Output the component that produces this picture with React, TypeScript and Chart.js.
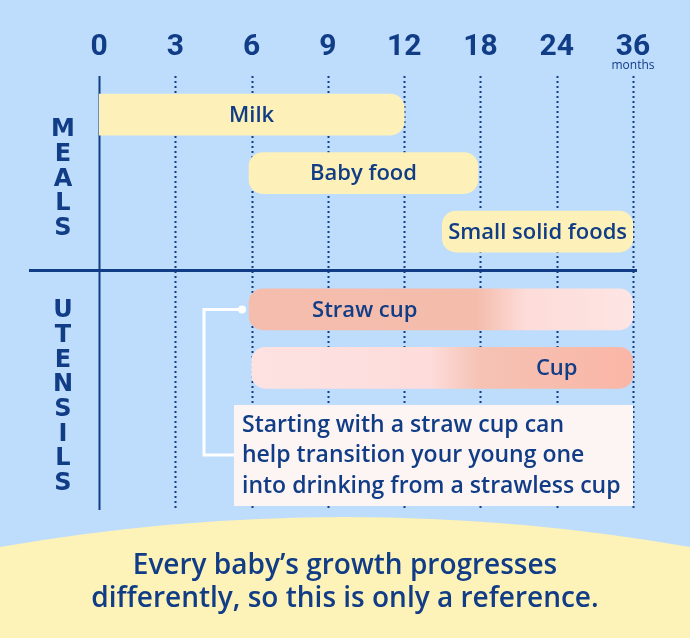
import React, { useEffect, useRef } from 'react';
import { Chart, registerables } from 'chart.js';

Chart.register(...registerables);

// ---- data ----
const tickMonths = [0, 3, 6, 9, 12, 18, 24, 36];
const categories = ['Milk', 'Baby food', 'Small solid foods', 'Straw cup', 'Cup'];
const startMonths = [0, 5.9, 15, 5.9, 6];
const endMonths = [12, 17.8, 36, 36, 36];
const rowPositions = [0, 1, 2, 3.33, 4.33];
const accentFrom = [null, null, null, 5.9, 18];
const accentTo = [null, null, null, 18, 36];
const groupMeals = 'MEALS';
const groupUtensils = 'UTENSILS';
const noteLines = [
  'Starting with a straw cup can',
  'help transition your young one',
  'into drinking from a strawless cup',
];
const footerLines = ['Every baby\u2019s growth progresses', 'differently, so this is only a reference.'];

const NAVY = '#113c86';
const BG = '#bedcfc';
const YELLOW = '#fdf1b9';
const FOOT_YELLOW = '#fdf2b8';
const FONT = '"Open Sans", "Noto Sans", sans-serif';

function toPos(m: number): number {
  for (let i = 0; i < tickMonths.length - 1; i++) {
    const a = tickMonths[i];
    const b = tickMonths[i + 1];
    if (m <= b) return i + (m - a) / (b - a);
  }
  return tickMonths.length - 1;
}

const decorPlugin = {
  id: 'decor',
  beforeDraw(chart: any) {
    const { ctx, width, height } = chart;
    ctx.save();
    ctx.fillStyle = BG;
    ctx.fillRect(0, 0, width, height);
    // yellow arc footer
    ctx.fillStyle = FOOT_YELLOW;
    ctx.beginPath();
    ctx.moveTo(0, 547);
    ctx.quadraticCurveTo(width / 2, 487, width, 547);
    ctx.lineTo(width, height);
    ctx.lineTo(0, height);
    ctx.closePath();
    ctx.fill();
    ctx.fillStyle = NAVY;
    ctx.font = `600 28px ${FONT}`;
    ctx.textAlign = 'center';
    ctx.textBaseline = 'middle';
    footerLines.forEach((l, i) => ctx.fillText(l, width / 2, 566 + i * 33));
    ctx.restore();
  },
  beforeDatasetsDraw(chart: any) {
    const { ctx, chartArea } = chart;
    const xs = chart.scales.x;
    const ys = chart.scales.y;
    ctx.save();
    ctx.strokeStyle = NAVY;
    tickMonths.forEach((m, i) => {
      const x = Math.round(xs.getPixelForValue(toPos(m))) + 0.5;
      ctx.beginPath();
      if (i === 0) {
        ctx.setLineDash([]);
        ctx.lineWidth = 2;
      } else {
        ctx.setLineDash([2, 3]);
        ctx.lineWidth = 2;
      }
      ctx.moveTo(x, chartArea.top);
      ctx.lineTo(x, chartArea.bottom);
      ctx.stroke();
    });
    ctx.setLineDash([]);
    // separator between groups
    const sepY = ys.getPixelForValue((rowPositions[2] + rowPositions[3]) / 2);
    ctx.lineWidth = 3;
    ctx.beginPath();
    ctx.moveTo(29, sepY);
    ctx.lineTo(xs.getPixelForValue(toPos(36)) + 4, sepY);
    ctx.stroke();
    // months label
    ctx.fillStyle = NAVY;
    ctx.font = `500 12px ${FONT}`;
    ctx.textAlign = 'center';
    ctx.textBaseline = 'middle';
    ctx.fillText('months', xs.getPixelForValue(toPos(36)), 66);
    // group letters
    ctx.font = `bold 24px "DejaVu Sans", sans-serif`;
    const lx = 63;
    groupMeals.split('').forEach((c, i) => ctx.fillText(c, lx, 130 + i * 24.7));
    groupUtensils.split('').forEach((c, i) => ctx.fillText(c, lx, 311 + i * 24.7));
    ctx.restore();
  },
  afterDatasetsDraw(chart: any) {
    const { ctx } = chart;
    const xs = chart.scales.x;
    const meta = chart.getDatasetMeta(0);
    ctx.save();
    ctx.fillStyle = NAVY;
    ctx.font = `600 22px ${FONT}`;
    ctx.textAlign = 'center';
    ctx.textBaseline = 'middle';
    meta.data.forEach((bar: any, i: number) => {
      let a = bar.base;
      let b = bar.x;
      if (accentFrom[i] !== null) {
        a = xs.getPixelForValue(toPos(accentFrom[i] as number));
        b = xs.getPixelForValue(toPos(accentTo[i] as number));
      }
      ctx.fillText(categories[i], (a + b) / 2, bar.y + 1);
    });
    // note box
    const left = 234;
    const right = xs.getPixelForValue(toPos(36));
    ctx.fillStyle = '#fdf5f3';
    ctx.fillRect(left, 405, right - left, 101);
    ctx.fillStyle = NAVY;
    ctx.font = `600 23px ${FONT}`;
    ctx.textAlign = 'left';
    noteLines.forEach((l, i) => ctx.fillText(l, 242, 425 + i * 30.5));
    // connector
    const strawBar = meta.data[3];
    ctx.strokeStyle = '#ffffff';
    ctx.lineWidth = 3;
    ctx.beginPath();
    ctx.moveTo(strawBar.base - 7, strawBar.y);
    ctx.lineTo(204, strawBar.y);
    ctx.lineTo(204, 455);
    ctx.lineTo(left, 455);
    ctx.stroke();
    ctx.fillStyle = '#ffffff';
    ctx.beginPath();
    ctx.arc(strawBar.base - 7, strawBar.y, 4, 0, Math.PI * 2);
    ctx.fill();
    ctx.restore();
  },
};

function barColor(c: any) {
  const i = c.dataIndex;
  if (i < 3) return YELLOW;
  const chart = c.chart;
  if (!chart.chartArea) return '#f5bdae';
  const xs = chart.scales.x;
  const x0 = xs.getPixelForValue(toPos(startMonths[i]));
  const x1 = xs.getPixelForValue(toPos(endMonths[i]));
  const g = chart.ctx.createLinearGradient(x0, 0, x1, 0);
  const split = xs.getPixelForValue(toPos(18));
  const f = (x: number) => Math.min(1, Math.max(0, (x - x0) / (x1 - x0)));
  if (i === 3) {
    g.addColorStop(0, '#f5bdad');
    g.addColorStop(f(split - 4), '#f4bcab');
    g.addColorStop(f(split + 45), '#fddcd9');
    g.addColorStop(1, '#fde5e3');
  } else {
    g.addColorStop(0, '#fde2e2');
    g.addColorStop(f(split - 50), '#fddcdb');
    g.addColorStop(f(split), '#f5c2b3');
    g.addColorStop(1, '#fab6a7');
  }
  return g;
}

export default function App() {
  const ref = useRef<HTMLCanvasElement>(null);
  useEffect(() => {
    document.body.style.margin = '0';
    const data = categories.map((_, i) => ({
      x: [toPos(startMonths[i]), toPos(endMonths[i])],
      y: rowPositions[i],
    }));
    const chart = new Chart(ref.current as HTMLCanvasElement, {
      type: 'bar',
      data: {
        datasets: [
          {
            data: data as any,
            backgroundColor: barColor as any,
            borderRadius: ((c: any) =>
              c.dataIndex === 0
                ? { topLeft: 0, bottomLeft: 0, topRight: 14, bottomRight: 14 }
                : 14) as any,
            borderSkipped: false,
            barThickness: 41,
          },
        ],
      },
      options: {
        indexAxis: 'y',
        responsive: false,
        animation: false,
        devicePixelRatio: 1,
        layout: { padding: { left: 99, right: 57, top: 0, bottom: 128 } },
        plugins: { legend: { display: false }, tooltip: { enabled: false } },
        scales: {
          x: {
            type: 'linear',
            position: 'top',
            min: 0,
            max: tickMonths.length - 1,
            afterFit: (s: any) => {
              s.height = 76;
            },
            ticks: {
              stepSize: 1,
              autoSkip: false,
              maxRotation: 0,
              padding: 11,
              color: NAVY,
              font: { family: 'Roboto', weight: 'bold', size: 30 },
              callback: (v: any) => String(tickMonths[v as number] ?? ''),
            },
            grid: { display: false, drawTicks: false },
            border: { display: false },
          },
          y: {
            type: 'linear',
            display: false,
            reverse: true,
            offset: false,
            min: -0.66,
            max: 6.76,
          },
        },
      },
      plugins: [decorPlugin],
    });
    return () => chart.destroy();
  }, []);
  return (
    <div style={{ width: 690, height: 638 }}>
      <canvas ref={ref} width={690} height={638} />
    </div>
  );
}
